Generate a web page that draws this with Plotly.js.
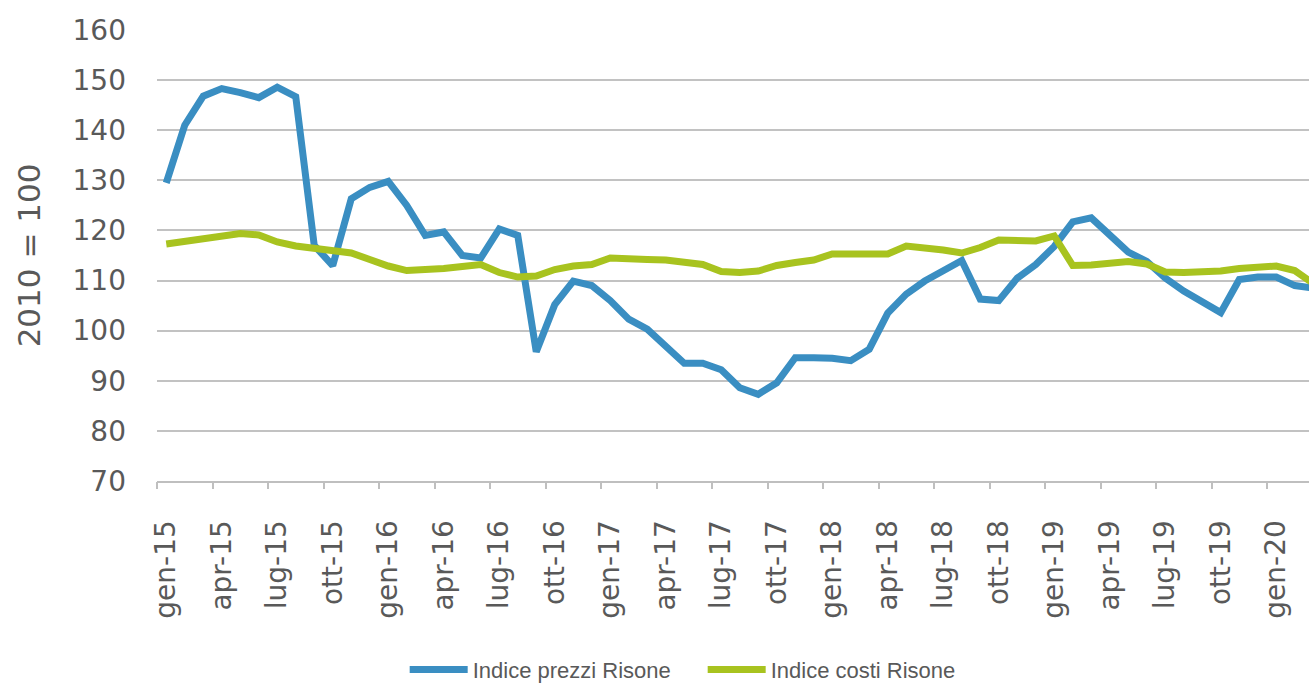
<!DOCTYPE html>
<html>
<head>
<meta charset="utf-8">
<script src="https://cdn.plot.ly/plotly-3.0.1.min.js"></script>
<style>
  html, body { margin: 0; padding: 0; background: #ffffff; }
  #chart { width: 1309px; height: 691px; }
</style>
</head>
<body>
<div id="chart"></div>
<script>
const months = [
  "gen-15","feb-15","mar-15","apr-15","mag-15","giu-15","lug-15","ago-15","set-15","ott-15","nov-15","dic-15",
  "gen-16","feb-16","mar-16","apr-16","mag-16","giu-16","lug-16","ago-16","set-16","ott-16","nov-16","dic-16",
  "gen-17","feb-17","mar-17","apr-17","mag-17","giu-17","lug-17","ago-17","set-17","ott-17","nov-17","dic-17",
  "gen-18","feb-18","mar-18","apr-18","mag-18","giu-18","lug-18","ago-18","set-18","ott-18","nov-18","dic-18",
  "gen-19","feb-19","mar-19","apr-19","mag-19","giu-19","lug-19","ago-19","set-19","ott-19","nov-19","dic-19",
  "gen-20","feb-20","mar-20"
];

const prezziRisone = [
  129.5, 141.0, 146.8, 148.3, 147.5, 146.5, 148.6, 146.7, 117.0, 113.0, 126.3, 128.6,
  129.8, 125.0, 119.0, 119.7, 115.0, 114.5, 120.3, 119.0, 95.8, 105.2, 109.9, 109.0,
  106.0, 102.3, 100.3, 97.0, 93.5, 93.5, 92.2, 88.6, 87.3, 89.6, 94.6, 94.6,
  94.5, 94.0, 96.3, 103.5, 107.3, 109.9, 111.8, 114.0, 106.3, 106.0, 110.5, 113.2,
  116.8, 121.7, 122.5, 119.0, 115.7, 113.8, 110.5, 107.9, 105.6, 103.6, 110.2, 110.7,
  110.7, 109.0, 108.5
];

const costiRisone = [
  117.3, 117.8, 118.1, 118.6, 119.4, 119.1, 117.7, 116.9, 116.4, 116.2, 115.5, 114.2,
  112.9, 112.0, 112.1, 112.4, 112.8, 113.2, 111.6, 110.7, 110.9, 112.2, 112.9, 113.2,
  114.5, 114.5, 114.2, 114.1, 113.8, 113.2, 111.8, 111.6, 111.9, 113.0, 113.6, 114.1,
  115.3, 115.3, 115.3, 115.3, 116.9, 116.6, 116.1, 115.5, 116.6, 118.1, 118.1, 117.9,
  118.9, 113.0, 113.1, 113.5, 113.8, 113.3, 111.7, 111.6, 111.6, 111.9, 112.4, 112.5,
  112.9, 112.0, 109.4
];

const tickLabels = months.filter((m, i) => i % 3 === 0);
const seriesNames = ["Indice prezzi Risone", "Indice costi Risone"];
const yTitle = "2010 = 100";

const labelIdx = months.map((m, i) => i).filter(i => i % 3 === 0);
const boundaryIdx = labelIdx.map(i => i - 0.5);

const xRange = [-0.5, 61.77];
const tickFont = { family: "DejaVu Sans, Open Sans, sans-serif", size: 28, color: "#595959" };

const traces = [
  {
    x: months, y: prezziRisone, name: seriesNames[0], type: "scatter", mode: "lines",
    line: { color: "#3a8ec2", width: 7, shape: "linear" }
  },
  {
    x: months, y: costiRisone, name: seriesNames[1], type: "scatter", mode: "lines",
    line: { color: "#a8c31f", width: 7, shape: "linear" }
  },
  {
    x: [xRange[0], xRange[1]], y: [70, 70], xaxis: "x2", type: "scatter", mode: "lines",
    line: { width: 0, color: "rgba(0,0,0,0)" }, showlegend: false, hoverinfo: "skip"
  }
];

const layout = {
  width: 1309, height: 691,
  margin: { l: 157, r: 0, t: 30, b: 205, pad: 0 },
  paper_bgcolor: "#ffffff", plot_bgcolor: "#ffffff",
  showlegend: true,
  legend: {
    orientation: "h", x: 0.215, xanchor: "left", y: -0.372, yanchor: "top",
    font: { family: "Liberation Sans, Arial, sans-serif", size: 22, color: "#595959" },
    bgcolor: "rgba(0,0,0,0)", itemwidth: 58, entrywidth: 225, traceorder: "normal"
  },
  xaxis: {
    type: "category",
    range: xRange,
    tickmode: "array",
    tickvals: labelIdx.map(i => months[i]),
    ticktext: tickLabels,
    tickangle: -90,
    ticks: "",
    ticklabelstandoff: 26,
    tickfont: tickFont,
    showgrid: false,
    showline: true, linecolor: "#bfbfbf", linewidth: 2,
    zeroline: false,
    fixedrange: true
  },
  xaxis2: {
    overlaying: "x",
    anchor: "y",
    side: "bottom",
    range: xRange,
    tickmode: "array",
    tickvals: boundaryIdx,
    ticktext: boundaryIdx.map(() => ""),
    ticks: "outside", ticklen: 7, tickwidth: 2, tickcolor: "#bfbfbf",
    showticklabels: false,
    showgrid: false, showline: false, zeroline: false
  },
  yaxis: {
    range: [70, 160],
    tickmode: "linear", tick0: 70, dtick: 10,
    ticks: "",
    ticklabelstandoff: 30,
    tickfont: tickFont,
    showgrid: true, gridcolor: "#c2c2c2", gridwidth: 2,
    showline: false, zeroline: false,
    title: { text: yTitle, font: { family: "DejaVu Sans, Open Sans, sans-serif", size: 31, color: "#595959" }, standoff: 22 },
    fixedrange: true
  }
};

Plotly.newPlot("chart", traces, layout, { staticPlot: true, displayModeBar: false });
</script>
</body>
</html>
